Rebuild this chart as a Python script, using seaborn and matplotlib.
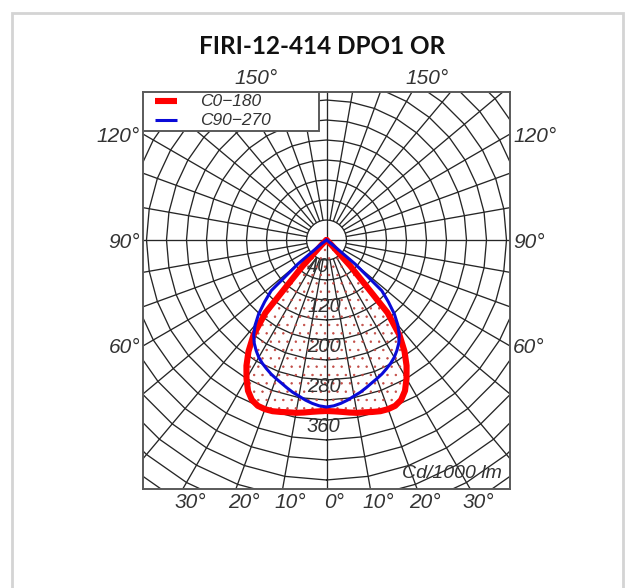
import numpy as np
import pandas as pd
import seaborn as sns
import matplotlib.pyplot as plt
from matplotlib import font_manager
from matplotlib.patches import Rectangle

# luminous intensity, cd/1000 lm (half curve, symmetric)
ANGLES = [0, 2.5, 5, 7.5, 10, 12.5, 15, 17.5, 20, 22.5, 25, 27.5, 30, 32.5,
          35, 37.5, 40, 42.5, 45, 47.5, 50, 52.5, 55, 60, 70, 80, 90]
C0_180 = [342, 343, 345, 348, 351, 353, 356, 359, 360, 359, 353, 340, 320, 298,
          272, 240, 190, 70, 15, 5, 2, 1, 0, 0, 0, 0, 0]
C90_270 = [334, 332, 328, 323, 317, 312, 306, 300, 295, 290, 284, 278, 271, 262,
           252, 239, 222, 201, 175, 150, 75, 12, 2, 0, 0, 0, 0]

RINGS = list(range(40, 680, 40))
RING_LABELS = [40, 120, 200, 280, 360]
BOTTOM_ANGLES = [-30, -20, -10, 0, 10, 20, 30]
SIDE_ANGLES = [60, 90, 120]
TOP_ANGLE = 150

TITLE = "FIRI-12-414 DPO1 OR"
LEGEND = ["C0\u2212180", "C90\u2212270"]

X_LIM = (-367, 367)
Y_LIM = (-498, 296)


def pick_font(names):
    for n in names:
        try:
            font_manager.findfont(font_manager.FontProperties(family=n),
                                  fallback_to_default=False)
            return n
        except ValueError:
            pass
    return "DejaVu Sans"


sns.set_style("white")
CAD = pick_font(["Liberation Sans Narrow", "Liberation Sans", "DejaVu Sans"])
HEAD = pick_font(["Lato", "Roboto", "DejaVu Sans"])
plt.rcParams["font.family"] = [CAD, "DejaVu Sans"]
plt.rcParams["hatch.linewidth"] = 0.5


def polar_to_xy(angles, values):
    a = np.radians(angles)
    v = np.asarray(values, dtype=float)
    return v * np.sin(a), -v * np.cos(a)


def full_curve(values):
    ang = [-a for a in ANGLES[::-1]] + ANGLES[1:]
    val = list(values[::-1]) + list(values[1:])
    x, y = polar_to_xy(ang, val)
    return pd.DataFrame({"x": x, "y": y})


fig = plt.figure(figsize=(6.35, 5.88), dpi=100)
ax = fig.add_axes([143 / 635, 99 / 588, 367 / 635, 397 / 588])

# card frame
fig.patches.append(Rectangle((12 / 635, -0.05), 611 / 635, 1.05 - 13 / 588,
                             transform=fig.transFigure, fill=False,
                             edgecolor="#d4d4d4", linewidth=2))

# polar grid: polygonal rings and radial spokes
grid_kw = dict(color="#262626", linewidth=0.95, zorder=1)
ring_ang = np.arange(0, 361, 10)
for r in RINGS:
    gx, gy = polar_to_xy(ring_ang, [r] * len(ring_ang))
    ax.plot(gx, gy, **grid_kw)
for a in range(0, 360, 10):
    r0 = 0 if a % 90 == 0 else RINGS[0]
    gx, gy = polar_to_xy([a, a], [r0, 900])
    ax.plot(gx, gy, **grid_kw)

# curves
red = full_curve(C0_180)
blue = full_curve(C90_270)
ax.fill(red["x"], red["y"], facecolor="none", edgecolor="#c24a44",
        hatch="..", linewidth=0, zorder=2)
sns.lineplot(data=red, x="x", y="y", sort=False, estimator=None, ax=ax,
             color="#ff0000", linewidth=4.4, zorder=3, legend=False)
sns.lineplot(data=blue, x="x", y="y", sort=False, estimator=None, ax=ax,
             color="#0a0ad8", linewidth=2.2, zorder=4, legend=False)

ax.set_xlim(*X_LIM)
ax.set_ylim(*Y_LIM)
ax.set_xlabel("")
ax.set_ylabel("")
ax.set_xticks([])
ax.set_yticks([])
for s in ax.spines.values():
    s.set_color("#5a5a5a")
    s.set_linewidth(1.4)
    s.set_zorder(6)

lab_kw = dict(style="italic", color="#333333")

# intensity labels along nadir
for r in RING_LABELS:
    ax.text(-39, -(r + 14), str(r), ha="left", va="center", zorder=5,
            fontsize=14.5, **lab_kw)

# angle labels
for a in BOTTOM_ANGLES:
    x = Y_LIM[0] * -np.tan(np.radians(a))
    ax.text(x + 16, Y_LIM[0] - 28, f"{abs(a)}\u00b0", ha="center", va="center",
            clip_on=False, fontsize=15, **lab_kw)
for a in SIDE_ANGLES:
    y = -X_LIM[1] / np.tan(np.radians(a))
    ax.text(X_LIM[0] - 6, y - 4, f"{a}\u00b0", ha="right", va="center",
            clip_on=False, fontsize=15, **lab_kw)
    ax.text(X_LIM[1] + 6, y - 4, f"{a}\u00b0", ha="left", va="center",
            clip_on=False, fontsize=15, **lab_kw)
xt = Y_LIM[1] * np.tan(np.radians(180 - TOP_ANGLE))
for sgn in (-1, 1):
    ax.text(sgn * xt + 30, Y_LIM[1] + 26, f"{TOP_ANGLE}\u00b0", ha="center",
            va="center", clip_on=False, fontsize=15, **lab_kw)

ax.text(251, -468, "Cd/1000 lm", ha="center", va="center", zorder=5,
        fontsize=14, **lab_kw)

# legend box
ax.add_patch(Rectangle((X_LIM[0], 218), -15 - X_LIM[0], Y_LIM[1] - 218,
                       facecolor="white", edgecolor="#5a5a5a", linewidth=1.4,
                       zorder=7))
ax.plot([-343, -299], [278, 278], color="#ff0000", linewidth=4.4, zorder=8,
        solid_capstyle="butt")
ax.plot([-343, -299], [240, 240], color="#0a0ad8", linewidth=2.2, zorder=8,
        solid_capstyle="butt")
ax.text(-253, 277, LEGEND[0], ha="left", va="center", zorder=8,
        fontsize=12.5, **lab_kw)
ax.text(-253, 239, LEGEND[1], ha="left", va="center", zorder=8,
        fontsize=12.5, **lab_kw)

fig.text(322 / 635, 1 - 46 / 588, TITLE, ha="center", va="center",
         fontsize=17.5, fontweight="bold", family=[HEAD, "DejaVu Sans"],
         color="#111111")

fig.savefig("out.png", dpi=100)
